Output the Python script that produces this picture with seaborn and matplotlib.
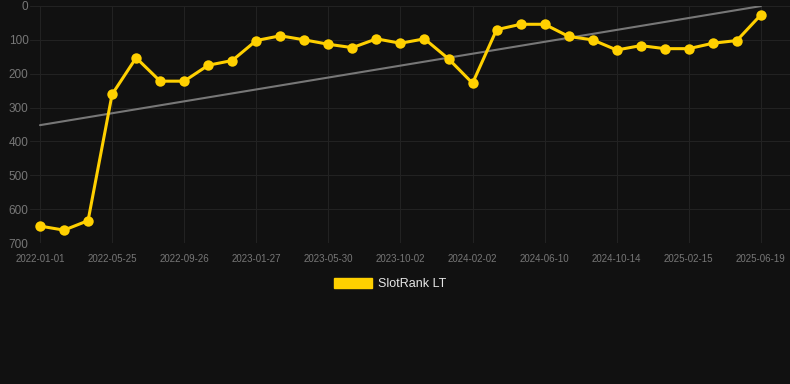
import numpy as np
import pandas as pd
import matplotlib
matplotlib.use("Agg")
import matplotlib.pyplot as plt
import matplotlib.patches as mpatches
import seaborn as sns

# data (rank, lower is better)
tick_labels = ["2022-01-01", "2022-05-25", "2022-09-26", "2023-01-27", "2023-05-30",
               "2023-10-02", "2024-02-02", "2024-06-10", "2024-10-14", "2025-02-15",
               "2025-06-19"]
rank = [650, 662, 634, 261, 153, 222, 222, 175, 161, 102, 88, 100, 113, 123, 97, 110,
        97, 156, 228, 70, 54, 54, 90, 100, 130, 117, 126, 126, 110, 102, 26]

df = pd.DataFrame({"idx": np.arange(len(rank)), "rank": rank})

bg = "#111111"
grid = "#222222"
gold = "#FFD000"

sns.set_theme(style="dark", rc={
    "figure.facecolor": bg, "axes.facecolor": bg,
    "axes.edgecolor": bg, "grid.color": grid,
})
plt.rcParams["font.family"] = ["Liberation Sans", "DejaVu Sans"]

fig = plt.figure(figsize=(7.9, 3.84), dpi=100)
W, H = 790, 384
ax = fig.add_axes([30 / W, 1 - 243 / H, (790 - 30) / W, (243 - 6) / H])

# trend line (linear fit)
sns.regplot(data=df, x="idx", y="rank", scatter=False, ci=None, ax=ax,
            line_kws={"color": "#777777", "lw": 1.5, "zorder": 2})
sns.lineplot(data=df, x="idx", y="rank", ax=ax, color=gold, lw=2.2, marker="o",
             markersize=7.5, markeredgewidth=0, zorder=3, clip_on=False)

step = 24.03
ax.set_xlim(-10 / step, (790 - 40) / step)
ax.set_ylim(700, 0)
ax.set_xticks(np.arange(0, len(rank), 3))
ax.set_xticklabels(tick_labels)
ax.set_yticks(np.arange(0, 701, 100))
ax.grid(True, color=grid, lw=0.8)
ax.tick_params(axis="x", labelsize=7, length=2, width=0.8,
               color=grid, pad=6, labelcolor="#777777")
ax.tick_params(axis="y", labelsize=8.5, length=0, pad=1, labelcolor="#777777")
ax.set_xlabel("")
ax.set_ylabel("")
for s in ax.spines.values():
    s.set_visible(False)

handle = mpatches.Patch(color=gold, label="SlotRank LT")
fig.legend(handles=[handle], loc="center", bbox_to_anchor=(0.494, 1 - 284 / H),
           frameon=False, labelcolor="#e6e6e6", fontsize=9, handlelength=3.0,
           handleheight=0.8, handletextpad=0.5)

fig.savefig("out.png", dpi=100, facecolor=bg)
